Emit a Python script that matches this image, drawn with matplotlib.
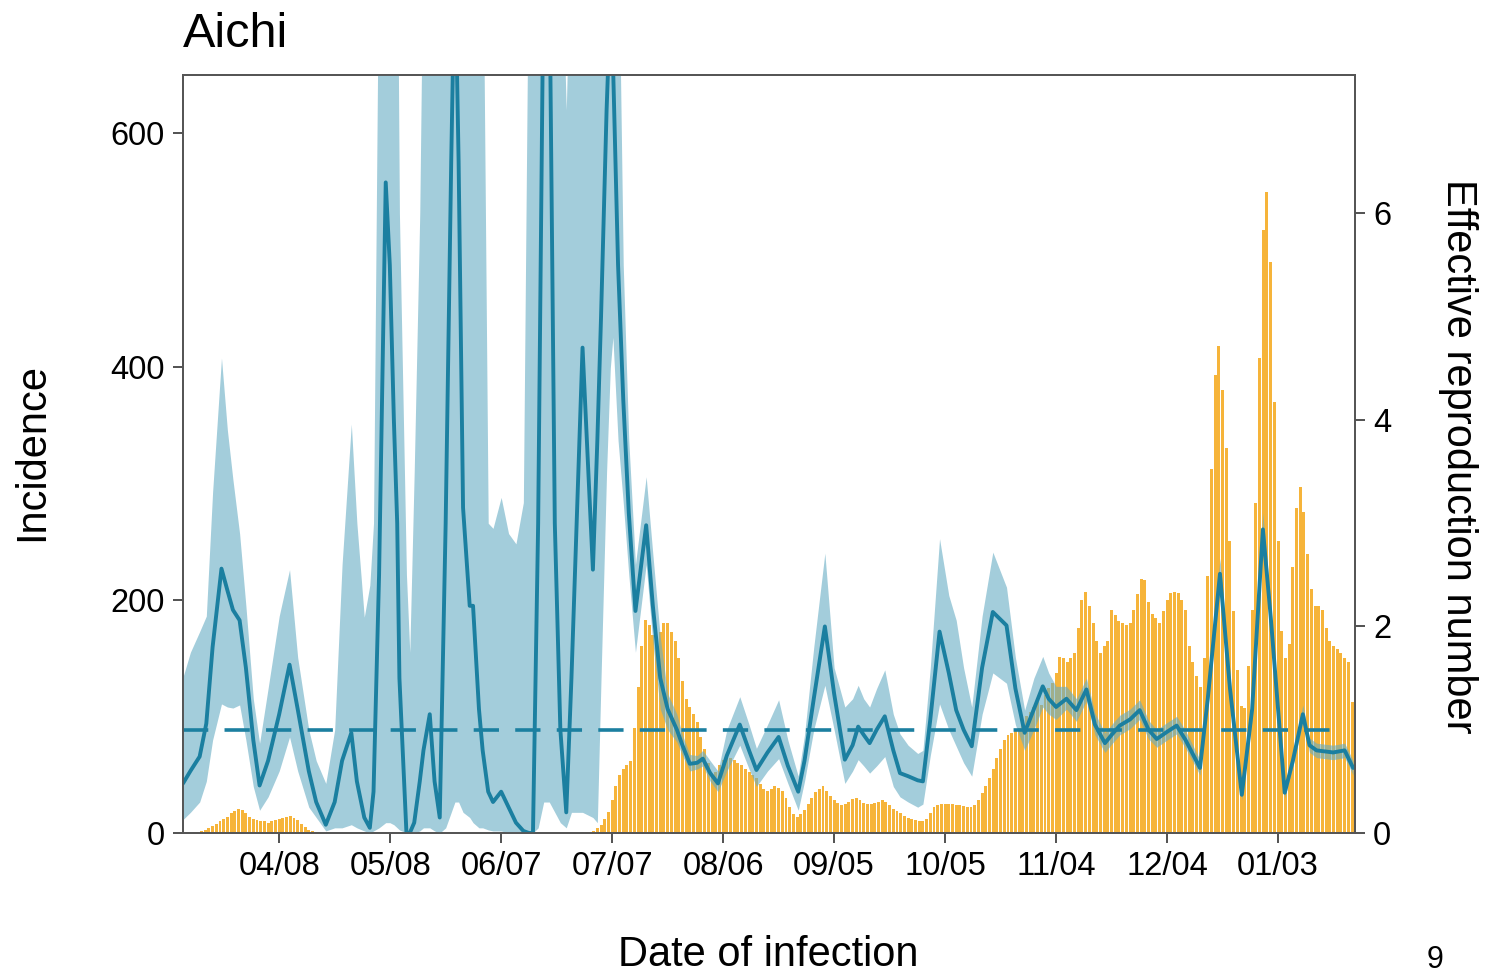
import datetime as dt
import matplotlib.pyplot as plt
import numpy as np

plt.rcParams['font.family'] = ['Liberation Sans', 'DejaVu Sans']

# daily incidence by date of infection, starting 2020-03-13
start = dt.date(2020, 3, 13)
incidence = np.array([
    0, 0, 0, 1, 1, 2,
    3, 4, 6, 8, 10, 12, 14, 17, 19, 21, 20, 17, 14, 12, 11, 10, 10, 9, 10, 11, 12, 13, 14, 15,
    13, 11, 8, 5, 3, 2,
    1, 1, 0, 1, 0, 0, 0, 0, 0, 0,
    0, 0, 0, 0, 0, 0, 0, 0, 0, 0,
    0, 0, 0, 0, 0, 0, 0, 0, 0, 0,
    0, 0, 0, 0, 0, 0, 0, 0, 0, 0,
    0, 0, 0, 0, 0, 0, 0, 0, 0, 0,
    0, 0, 0, 0, 0, 0, 0, 0, 0, 0,
    0, 0, 0, 0, 0, 0, 0, 0, 0, 0,
    0, 0, 1, 1,
    1, 2, 4, 7, 12, 18, 28, 40, 50, 55, 58, 62, 90, 125, 160, 183,
    178, 170, 165, 172, 180, 180, 172, 165, 150, 130, 115, 108, 102, 95, 82, 72, 60, 50, 52, 58,
    63, 65, 64, 63, 60, 58, 55, 52, 50, 47, 42, 38, 36, 38, 40, 39, 36, 30, 22, 16,
    14, 16, 20, 25, 30, 35, 38, 40, 36, 32,
    28, 26, 24, 25, 27, 29, 30, 28, 26, 25,
    25, 26, 27, 28, 27, 24, 21, 19, 17, 15,
    13, 12, 11, 10, 10, 12, 17, 22, 24, 25,
    25, 25, 25, 24, 24, 23, 22, 22, 24, 28,
    34, 40, 47, 55, 64, 72, 80, 84, 86, 88,
    90, 93, 100, 104, 108, 112, 110, 118, 124, 129,
    137, 151, 150, 147, 150, 154, 176, 200, 207, 195,
    180, 165, 154, 160, 165, 191, 187, 182, 180, 178,
    180, 191, 205, 218, 217, 198, 188, 184, 180, 190,
    200, 206, 207, 206, 200, 191, 160, 147, 135, 125,
    150, 220, 312, 393, 418, 380, 330, 250, 190, 140,
    109, 107, 143, 191, 283, 407, 517, 550, 490, 370,
    250, 173, 150, 162, 228, 279, 297, 275, 239, 209,
    195, 195, 191, 176, 165, 160, 158, 154, 150, 147,
    112,
])
days = np.arange(len(incidence))

# effective reproduction number (day offset, median, lower, upper)
rt_day = [0, 2, 4.5, 6.3, 8, 10.4, 12, 13.5, 15.3, 17, 19, 20.7, 23, 26, 28.8, 31, 34, 36,
          38.6, 41, 43, 45.5, 47, 49, 50.5, 51.5, 53, 54.8, 55.9, 57, 57.9, 58.5, 60.4, 61.3,
          62.5, 64, 65, 66.7, 68, 69.4, 71, 72.5, 73.5, 74.5, 75.7, 77.5, 78.4, 80, 81, 82.5,
          83.8, 86, 88, 90, 92, 93.5, 94.6, 96, 97.5, 99, 100.5, 102, 103.6, 105, 108, 110.8,
          112, 113, 114.5, 115.5, 116.2, 117.6, 119, 120.5, 122.3, 125.2, 127, 129, 131, 133.5,
          135, 137, 139, 140.5, 142.5, 144.6, 147, 150.5, 153, 155, 158, 161, 163.5, 166.3,
          168, 170.5, 173.5, 176, 178.9, 181, 182.5, 184, 185.6, 187.5, 189.7, 192, 193.8,
          196, 198.6, 200, 202, 204.5, 207, 209, 211, 213.2, 216, 218.9, 222.6, 225, 227.5,
          230, 232.4, 234, 236, 238.8, 241.5, 244.2, 246.5, 249.2, 251, 253.2, 256, 258.6,
          261, 263.2, 266, 268.6, 271, 274.9, 277, 280.3, 283, 286.2, 289, 291.9, 294, 297.8,
          300, 302.7, 304.5, 306.4, 310.9, 314, 316.3]
rt_mid = [0.48, 0.60, 0.74, 1.06, 1.80, 2.56, 2.35, 2.16, 2.06, 1.60, 0.90, 0.46, 0.70, 1.15,
          1.63, 1.20, 0.60, 0.30, 0.08, 0.30, 0.70, 0.97, 0.50, 0.15, 0.05, 0.40, 2.50, 6.30,
          5.50, 4.00, 3.00, 1.50, 0.00, 0.00, 0.10, 0.50, 0.80, 1.15, 0.50, 0.15, 3.00, 6.50,
          8.50, 6.50, 3.15, 2.20, 2.20, 1.20, 0.80, 0.40, 0.30, 0.40, 0.25, 0.10, 0.02, 0.00,
          0.00, 3.00, 8.50, 8.50, 3.00, 1.00, 0.20, 1.50, 4.70, 2.55, 3.80, 5.00, 7.00, 8.00,
          7.50, 5.50, 4.20, 3.10, 2.15, 2.98, 2.20, 1.50, 1.20, 1.00, 0.85, 0.67, 0.68, 0.72,
          0.58, 0.48, 0.75, 1.05, 0.80, 0.61, 0.78, 0.93, 0.65, 0.40, 0.70, 1.30, 2.00, 1.35,
          0.71, 0.85, 1.03, 0.95, 0.87, 1.00, 1.13, 0.80, 0.58, 0.55, 0.51, 0.50, 1.10, 1.95,
          1.55, 1.19, 1.00, 0.84, 1.60, 2.14, 2.01, 1.40, 0.97, 1.20, 1.42, 1.30, 1.22, 1.30,
          1.19, 1.39, 1.05, 0.87, 0.95, 1.04, 1.10, 1.19, 1.00, 0.91, 0.98, 1.04, 0.90, 0.63,
          1.30, 2.51, 1.40, 0.37, 1.20, 2.94, 2.10, 0.39, 0.70, 1.15, 0.85, 0.80, 0.78, 0.80,
          0.63]
rt_lo = [0.13, 0.20, 0.30, 0.50, 0.90, 1.25, 1.22, 1.21, 1.24, 0.90, 0.45, 0.22, 0.35, 0.60,
         0.93, 0.60, 0.25, 0.15, 0.02, 0.05, 0.05, 0.08, 0.05, 0.02, 0.00, 0.02, 0.05, 0.10,
         0.10, 0.08, 0.05, 0.03, 0.00, 0.00, 0.00, 0.02, 0.05, 0.05, 0.02, 0.00, 0.05, 0.20,
         0.30, 0.30, 0.20, 0.15, 0.10, 0.05, 0.05, 0.03, 0.02, 0.02, 0.00, 0.00, 0.00, 0.00,
         0.00, 0.05, 0.30, 0.30, 0.20, 0.10, 0.05, 0.20, 0.20, 0.15, 0.10, 1.50, 3.50, 4.50,
         4.80, 3.80, 3.20, 2.50, 1.75, 2.60, 1.85, 1.20, 1.00, 0.88, 0.75, 0.60, 0.62, 0.65,
         0.50, 0.40, 0.60, 0.85, 0.62, 0.45, 0.60, 0.72, 0.48, 0.22, 0.50, 1.00, 1.43, 1.00,
         0.48, 0.60, 0.71, 0.65, 0.58, 0.65, 0.74, 0.45, 0.35, 0.30, 0.25, 0.28, 0.75, 1.25,
         1.00, 0.84, 0.68, 0.55, 1.15, 1.55, 1.45, 1.05, 0.80, 1.00, 1.22, 1.15, 1.10, 1.20,
         1.08, 1.28, 0.95, 0.78, 0.86, 0.95, 1.01, 1.10, 0.91, 0.83, 0.90, 0.96, 0.82, 0.56,
         1.20, 2.38, 1.30, 0.32, 1.10, 2.80, 1.98, 0.34, 0.64, 1.07, 0.78, 0.73, 0.71, 0.73,
         0.56]
rt_hi = [1.51, 1.75, 1.95, 2.10, 3.30, 4.60, 3.90, 3.42, 2.90, 2.20, 1.30, 0.87, 1.40, 2.10,
         2.55, 1.70, 1.00, 0.70, 0.48, 1.00, 2.60, 3.96, 3.00, 2.09, 2.40, 3.00, 9.00, 9.00,
         9.00, 9.00, 9.00, 6.00, 2.50, 1.75, 3.50, 6.00, 9.00, 9.00, 9.00, 9.00, 9.00, 9.00,
         9.00, 9.00, 9.00, 9.00, 9.00, 9.00, 9.00, 3.00, 2.95, 3.25, 2.90, 2.80, 3.20, 9.00,
         9.00, 9.00, 9.00, 9.00, 9.00, 9.00, 7.00, 9.00, 9.00, 9.00, 9.00, 9.00, 9.00, 9.00,
         9.00, 9.00, 5.50, 3.80, 2.60, 3.45, 2.70, 1.90, 1.35, 1.15, 0.95, 0.76, 0.75, 0.80,
         0.70, 0.60, 1.00, 1.32, 1.05, 0.82, 1.05, 1.29, 0.90, 0.55, 0.95, 1.80, 2.71, 1.60,
         1.22, 1.30, 1.43, 1.30, 1.22, 1.40, 1.58, 1.15, 0.96, 0.85, 0.77, 0.80, 1.60, 2.85,
         2.30, 2.06, 1.60, 1.22, 2.10, 2.72, 2.38, 1.70, 1.19, 1.50, 1.71, 1.55, 1.42, 1.42,
         1.30, 1.50, 1.16, 0.97, 1.05, 1.14, 1.20, 1.29, 1.09, 1.00, 1.07, 1.13, 0.99, 0.71,
         1.40, 2.66, 1.52, 0.43, 1.30, 3.10, 2.22, 0.45, 0.77, 1.24, 0.92, 0.87, 0.85, 0.87,
         0.70]

tick_days = np.arange(26, 297, 30)
tick_labels = [(start + dt.timedelta(days=int(d))).strftime('%m/%d') for d in tick_days]

W, H = 1488, 975
fig = plt.figure(figsize=(W / 100, H / 100), dpi=100)
ax = fig.add_axes([183 / W, (H - 833) / H, (1355 - 183) / W, (833 - 75) / H])

bar_color = '#F6B43A'
line_color = '#1B7FA0'

ax.bar(days, incidence, width=0.8, color=bar_color, linewidth=0)
ax.set_xlim(0, 316.8)
ax.set_ylim(0, 650)
ax.set_yticks([0, 200, 400, 600])
ax.set_xticks(tick_days)
ax.set_xticklabels(tick_labels)

ax2 = ax.twinx()
ax2.fill_between(rt_day, rt_lo, rt_hi, color='#66ACC3', alpha=0.6, linewidth=0)
ax2.plot(rt_day, rt_mid, color=line_color, lw=2.8, solid_joinstyle='round',
         solid_capstyle='round')
ax2.hlines(1, 0, 310, colors=line_color, linestyles=(0, (7, 4.5)), lw=2.6)
ax2.set_ylim(0, 7.34)
ax2.set_yticks([0, 2, 4, 6])

for a in (ax, ax2):
    a.tick_params(labelsize=23.5, length=7, width=1.2, color='#333333', pad=6)
    for s in a.spines.values():
        s.set_color('#555555')
        s.set_linewidth(1.3)

fig.text(183 / W, 1 - 47 / H, 'Aichi', fontsize=35, ha='left', va='baseline')
fig.text(32 / W, 1 - 452 / H, 'Incidence', fontsize=30, rotation=90, ha='center', va='center')
fig.text(1458 / W, 1 - 456 / H, 'Effective reproduction number', fontsize=30, rotation=270,
         ha='center', va='center')
fig.text(768 / W, 1 - 966 / H, 'Date of infection', fontsize=30, ha='center', va='baseline')
fig.text(1435 / W, 1 - 968 / H, '9', fontsize=22, ha='center', va='baseline')

fig.savefig('out.png', dpi=100)
